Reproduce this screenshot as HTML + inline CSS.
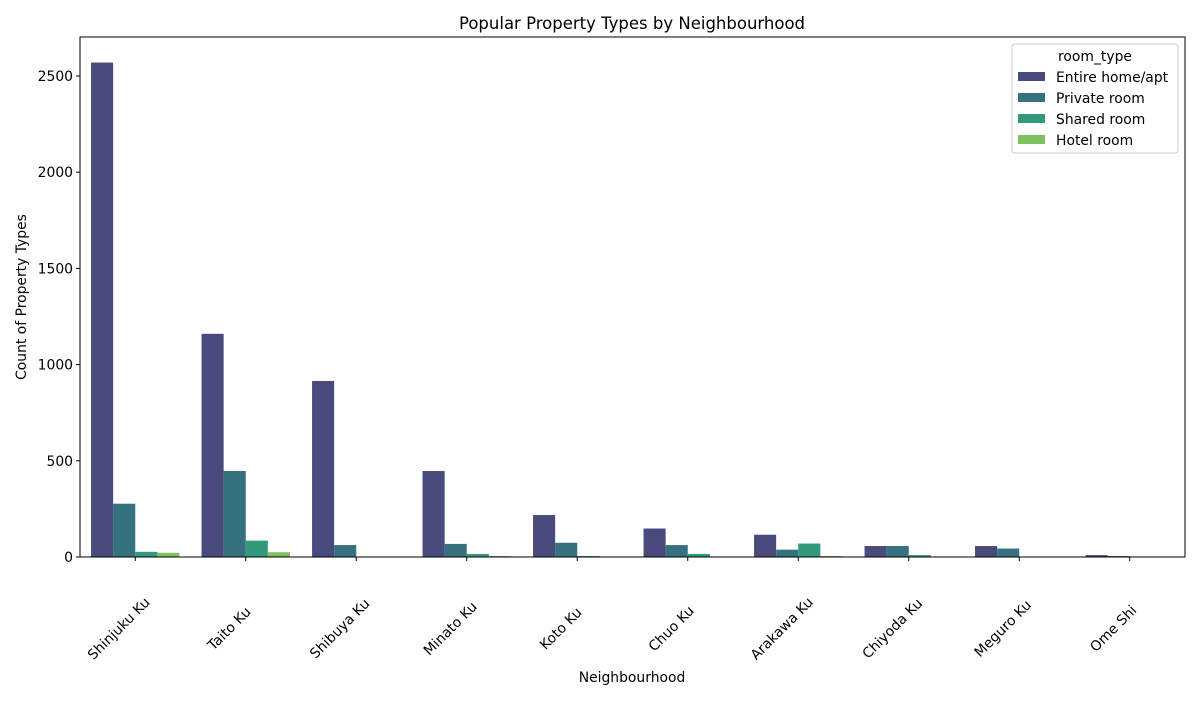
<!DOCTYPE html>
<html><head><meta charset="utf-8"><style>
body{margin:0;background:#fff;font-family:"DejaVu Sans",sans-serif}
</style></head><body>
<svg id="chart" width="1200" height="700" xmlns="http://www.w3.org/2000/svg" font-family="DejaVu Sans, sans-serif"></svg>
<script>
const categories=["Shinjuku Ku","Taito Ku","Shibuya Ku","Minato Ku","Koto Ku","Chuo Ku","Arakawa Ku","Chiyoda Ku","Meguro Ku","Ome Shi"];
const seriesNames=["Entire home/apt","Private room","Shared room","Hotel room"];
const entireHome=[2570,1160,915,447,218,148,116,57,57,10];
const privateRoom=[277,447,62,68,74,62,38,57,44,5];
const sharedRoom=[27,85,0,16,5,16,70,10,0,0];
const hotelRoom=[22,25,0,5,0,0,5,0,0,0];
const yTicks=[0,500,1000,1500,2000,2500];
const colors=["#4a4b7d","#367180","#33997b","#7fc15e"];
const series=[entireHome,privateRoom,sharedRoom,hotelRoom];
const svg=document.getElementById('chart');
const NS="http://www.w3.org/2000/svg";
const L=80,R=1185,T=37,B=557;
const y=v=>B-v*(481/2500);
const bandW=(R-L)/categories.length;
const xc=i=>L+bandW*(i+0.5);
const barW=bandW*0.8/4;
function mk(tag,attrs,parent){const e=document.createElementNS(NS,tag);for(const k in attrs)e.setAttribute(k,attrs[k]);(parent||svg).appendChild(e);return e;}
const title=mk('text',{x:632,y:29,'text-anchor':'middle','font-size':16.5});title.textContent="Popular Property Types by Neighbourhood";


series.forEach((s,si)=>{s.forEach((v,i)=>{
 const r=mk('rect',{x:xc(i)-2*barW+si*barW,y:y(v),width:barW,height:B-y(v),fill:colors[si]});
 
 
});});
mk('rect',{x:L,y:T,width:R-L,height:B-T,fill:'none',stroke:'#000','stroke-width':1});
yTicks.forEach(t=>{
 mk('line',{x1:L-4,x2:L,y1:y(t),y2:y(t),stroke:'#000'});
 const tx=mk('text',{x:L-7,y:y(t)+5,'text-anchor':'end','font-size':13.9});tx.textContent=t;
 
 
});
categories.forEach((c,i)=>{
 mk('line',{x1:xc(i),x2:xc(i),y1:B,y2:B+4,stroke:'#000'});
 const cx=xc(i)-16, cy=629;
 const tx=mk('text',{x:cx,y:cy,'text-anchor':'middle','dominant-baseline':'central','font-size':13.9,transform:`rotate(-45 ${cx} ${cy})`});tx.textContent=c;
 
 
});
const xt=mk('text',{x:632,y:682,'text-anchor':'middle','font-size':13.9});xt.textContent="Neighbourhood";


const yt=mk('text',{x:26,y:297,'text-anchor':'middle','font-size':13.9,transform:'rotate(-90 26 297)'});yt.textContent="Count of Property Types";


const lg=mk('g',{});


mk('rect',{x:1012,y:44,width:166,height:109,fill:'#fff',stroke:'#ccc',rx:3},lg);
const lt=mk('text',{x:1095,y:61,'text-anchor':'middle','font-size':13.9},lg);lt.textContent="room_type";
seriesNames.forEach((n,i)=>{
 mk('rect',{x:1018,y:72+i*21,width:27,height:9,fill:colors[i]},lg);
 const t=mk('text',{x:1056,y:82+i*21,'font-size':13.9},lg);t.textContent=n;
 
 
});
</script>
</body></html>
